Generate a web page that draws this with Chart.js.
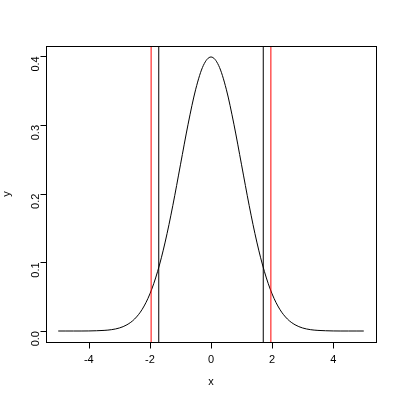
<!DOCTYPE html>
<html>
<head>
<meta charset="utf-8">
<script src="https://cdn.jsdelivr.net/npm/chart.js@4/dist/chart.umd.min.js"></script>
<style>
  html, body { margin: 0; padding: 0; background: #fff; }
  #wrap { width: 400px; height: 400px; }
</style>
</head>
<body>
<div id="wrap"><canvas id="grafico" width="400" height="400"></canvas></div>
<script>
// valores
var xVals = [-5, -4.75, -4.5, -4.25, -4, -3.75, -3.5, -3.25, -3, -2.75, -2.5, -2.25, -2, -1.75, -1.5, -1.25, -1, -0.75, -0.5, -0.25,
             0, 0.25, 0.5, 0.75, 1, 1.25, 1.5, 1.75, 2, 2.25, 2.5, 2.75, 3, 3.25, 3.5, 3.75, 4, 4.25, 4.5, 4.75, 5];
var yVals = [0, 0, 0, 0, 0.0001, 0.0004, 0.0009, 0.002, 0.0044, 0.0091, 0.0175, 0.0317, 0.054, 0.0863, 0.1295, 0.1826, 0.242, 0.3011, 0.3521, 0.3867,
             0.399, 0.3867, 0.3521, 0.3011, 0.242, 0.1826, 0.1295, 0.0863, 0.054, 0.0317, 0.0175, 0.0091, 0.0044, 0.002, 0.0009, 0.0004, 0.0001, 0, 0, 0, 0];
var xTicks = [-4, -2, 0, 2, 4];
var yTicks = [0, 0.1, 0.2, 0.3, 0.4];
var lineasNegras = [-1.71, 1.71];
var lineasRojas = [-1.96, 1.96];

var puntos = [];
for (var i = 0; i < xVals.length; i++) {
  puntos.push({x: xVals[i], y: yVals[i]});
}

//caja, lineas verticales y ejes al estilo R
var estiloR = {
  id: 'estiloR',
  afterDraw: function(chart) {
    var ctx = chart.ctx;
    var a = chart.chartArea;
    var sx = chart.scales.x;
    var sy = chart.scales.y;
    ctx.save();
    ctx.lineWidth = 1;

    function vline(v, color) {
      var px = sx.getPixelForValue(v);
      ctx.strokeStyle = color;
      ctx.beginPath();
      ctx.moveTo(px, a.top);
      ctx.lineTo(px, a.bottom);
      ctx.stroke();
    }
    lineasRojas.forEach(function(v){ vline(v, 'rgb(255,0,0)'); });
    lineasNegras.forEach(function(v){ vline(v, 'rgb(0,0,0)'); });

    ctx.strokeStyle = '#000';
    ctx.strokeRect(Math.round(a.left) + 0.5, Math.round(a.top) + 0.5,
                   Math.round(a.right - a.left), Math.round(a.bottom - a.top));

    // eje x
    var yb = Math.round(a.bottom) + 0.5;
    ctx.beginPath();
    ctx.moveTo(sx.getPixelForValue(xTicks[0]), yb);
    ctx.lineTo(sx.getPixelForValue(xTicks[xTicks.length - 1]), yb);
    xTicks.forEach(function(t){
      var px = Math.round(sx.getPixelForValue(t)) + 0.5;
      ctx.moveTo(px, yb);
      ctx.lineTo(px, yb + 6);
    });
    ctx.stroke();

    // eje y
    var xl = Math.round(a.left) + 0.5;
    ctx.beginPath();
    ctx.moveTo(xl, sy.getPixelForValue(yTicks[0]));
    ctx.lineTo(xl, sy.getPixelForValue(yTicks[yTicks.length - 1]));
    yTicks.forEach(function(t){
      var py = Math.round(sy.getPixelForValue(t)) + 0.5;
      ctx.moveTo(xl, py);
      ctx.lineTo(xl - 6, py);
    });
    ctx.stroke();
    ctx.restore();
  }
};

var fuente = {family: '"Liberation Sans", Arial, sans-serif', size: 11};

var ctxG = document.getElementById('grafico').getContext('2d');
var miGrafico = new Chart(ctxG, {
  type: 'line',
  data: {
    datasets: [
      {
        data: puntos,
        borderColor: '#000',
        borderWidth: 1,
        pointRadius: 0,
        fill: false,
        cubicInterpolationMode: 'monotone'
      }
    ]
  },
  options: {
    responsive: false,
    animation: false,
    layout: { padding: { top: 46, right: 24, left: 0, bottom: 0 } },
    plugins: { legend: { display: false }, tooltip: { enabled: false } },
    scales: {
      x: {
        type: 'linear',
        min: -5.4,
        max: 5.4,
        afterBuildTicks: function(s){ s.ticks = xTicks.map(function(v){ return {value: v}; }); },
        afterFit: function(s){ s.height = 58; },
        grid: { display: false, drawTicks: false },
        border: { display: false },
        ticks: { color: '#000', font: fuente, padding: 11, maxRotation: 0 },
        title: { display: true, text: 'x', color: '#000', font: fuente, padding: { top: 0, bottom: 11 } }
      },
      y: {
        type: 'linear',
        min: -0.016,
        max: 0.415,
        afterBuildTicks: function(s){ s.ticks = yTicks.map(function(v){ return {value: v}; }); },
        afterFit: function(s){ s.width = 46; },
        grid: { display: false, drawTicks: false },
        border: { display: false },
        ticks: { color: '#000', font: fuente, padding: 10, minRotation: 90, maxRotation: 90,
                 callback: function(v){ return v.toFixed(1); } },
        title: { display: true, text: 'y', color: '#000', font: fuente, padding: 0 }
      }
    }
  },
  plugins: [estiloR]
});
</script>
</body>
</html>
